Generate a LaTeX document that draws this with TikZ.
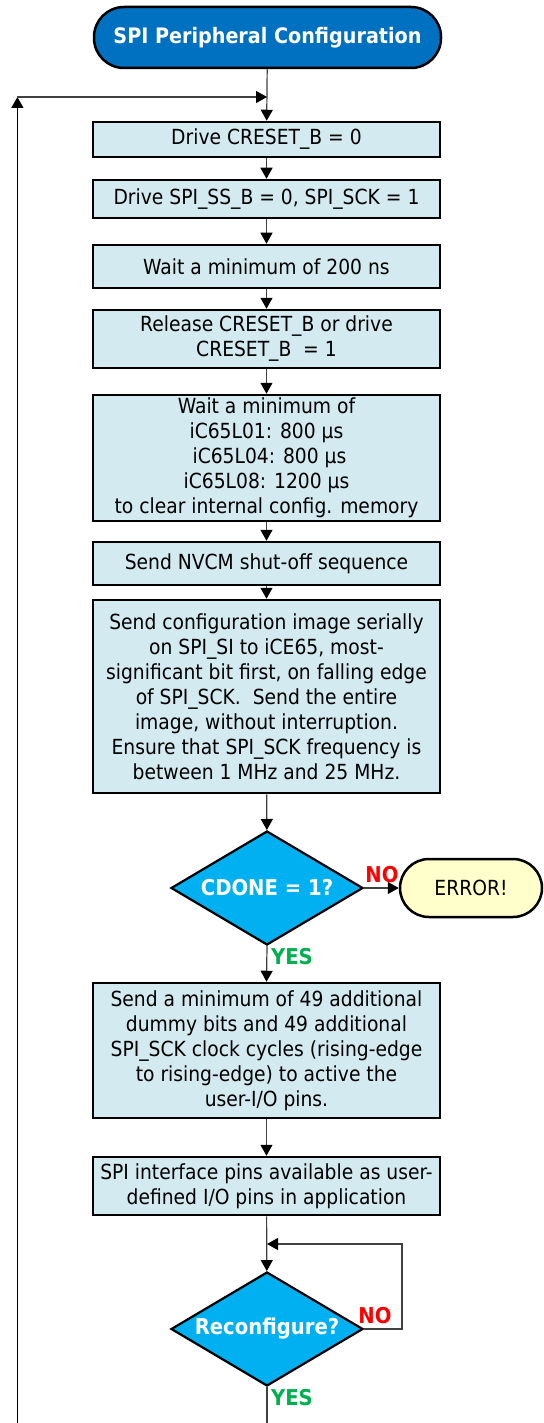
\documentclass[tikz,border=0pt]{standalone}
\usepackage{fontspec}
\setmainfont{DejaVu Sans Condensed}
\usetikzlibrary{shapes.geometric,arrows.meta}
\definecolor{boxfill}{HTML}{D3EAF1}
\definecolor{termfill}{HTML}{0070C0}
\definecolor{decfill}{HTML}{00B0F0}
\definecolor{errfill}{HTML}{FFFFCC}
\definecolor{nored}{HTML}{FF0000}
\definecolor{yesgreen}{HTML}{00B050}
\definecolor{linegray}{HTML}{404040}
\begin{document}
\begin{tikzpicture}[x=1pt,y=-1pt,
  stepbox/.style={draw=black, line width=2.5pt, fill=boxfill, minimum width=347pt, inner sep=0pt, align=center, font=\fontsize{20.8}{25}\selectfont},
  termbox/.style={draw=black, line width=2.5pt, fill=termfill, rounded corners=30pt, minimum width=347pt, minimum height=61pt, inner sep=0pt, text=white, font=\fontsize{21.3}{25}\selectfont\bfseries},
  errbox/.style={draw=black, line width=2.5pt, fill=errfill, rounded corners=29pt, minimum width=142pt, minimum height=58pt, inner sep=0pt, font=\fontsize{20.8}{25}\selectfont},
  decbox/.style={diamond, draw=black, line width=2.2pt, fill=decfill, minimum width=192pt, minimum height=114pt, aspect=1.684, inner sep=0pt, text=white, font=\fontsize{21.8}{25}\selectfont\bfseries},
  conn/.style={draw=linegray, line width=1.2pt, -{Triangle[length=11pt,width=12pt,color=black]}},
  plainline/.style={draw=linegray, line width=1.2pt},
  nolabel/.style={text=nored, font=\fontsize{21.8}{25}\selectfont\bfseries, inner sep=0pt},
  yeslabel/.style={text=yesgreen, font=\fontsize{21.8}{25}\selectfont\bfseries, inner sep=0pt}
]
\useasboundingbox (0,0) rectangle (543,1423);

\node[termbox] (term) at (267.5,37.5) {SPI Peripheral Configuration};
\node[stepbox, minimum height=35pt] (b1) at (266.5,139.5) {Drive CRESET\_B = 0};
\node[stepbox, minimum height=38pt] (b2) at (266.5,199) {Drive SPI\_SS\_B = 0, SPI\_SCK = 1};
\node[stepbox, minimum height=43pt] (b3) at (266.5,266.5) {Wait a minimum of 200 ns};
\node[stepbox, minimum height=58pt] (b4) at (266.5,339) {Release CRESET\_B or drive\\CRESET\_B\ \ = 1};
\node[stepbox, minimum height=126pt] (b5) at (266.5,458) {Wait a minimum of\\iC65L01: 800 µs\\\ iC65L04: 800 µs\\iC65L08: 1200 µs\\to clear internal config. memory};
\node[stepbox, minimum height=43pt] (b6) at (266.5,563.5) {Send NVCM shut-off sequence};
\node[stepbox, minimum height=193pt] (b7) at (266.5,696.5) {Send configuration image serially\\on SPI\_SI to iCE65, most-\\significant bit first, on falling edge\\of SPI\_SCK.\ \ Send the entire\\image, without interruption.\\Ensure that SPI\_SCK frequency is\\between 1 MHz and 25 MHz.};
\node[decbox] (d1) at (267,888) {CDONE = 1?};
\node[errbox] (err) at (471,888) {ERROR!};
\node[stepbox, minimum height=135pt] (b8) at (266.5,1050.5) {Send a minimum of 49 additional\\dummy bits and 49 additional\\SPI\_SCK clock cycles (rising-edge\\to rising-edge) to active the\\user-I/O pins.};
\node[stepbox, minimum height=58pt] (b9) at (266.5,1186) {SPI interface pins available as user-\\defined I/O pins in application};
\node[decbox] (d2) at (267,1329) {Reconfigure?};

\node[nolabel] (no1) at (382,875) {NO};
\node[yeslabel] (yes1) at (292,957) {YES};
\node[nolabel] (no2) at (375,1316) {NO};
\node[yeslabel] (yes2) at (292,1398) {YES};

\coordinate (j1) at (267,97);
\coordinate (lt) at (17.4,97);
\coordinate (lb) at (17.4,1423);
\coordinate (j2) at (267,1244);
\coordinate (rt) at (402,1244);
\coordinate (bot) at (267,1423);

\draw[conn] (term) -- (b1);
\draw[conn] (b1) -- (b2);
\draw[conn] (b2) -- (b3);
\draw[conn] (b3) -- (b4);
\draw[conn] (b4) -- (b5);
\draw[conn] (b5) -- (b6);
\draw[conn] (b6) -- (b7);
\draw[conn] (b7) -- (d1);
\draw[conn] (d1.east) -- (err.west);
\draw[conn] (d1.south) -- (b8.north);
\draw[conn] (b8) -- (b9);
\draw[conn] (b9) -- (d2);
\draw[conn] (d2.east) -| (rt) -- (j2);
\draw[plainline] (d2.south) -- (bot);
\draw[conn, draw=black, line width=1.6pt] (lb) -- (lt);
\draw[conn] (lt) -- (j1);
\end{tikzpicture}
\end{document}
